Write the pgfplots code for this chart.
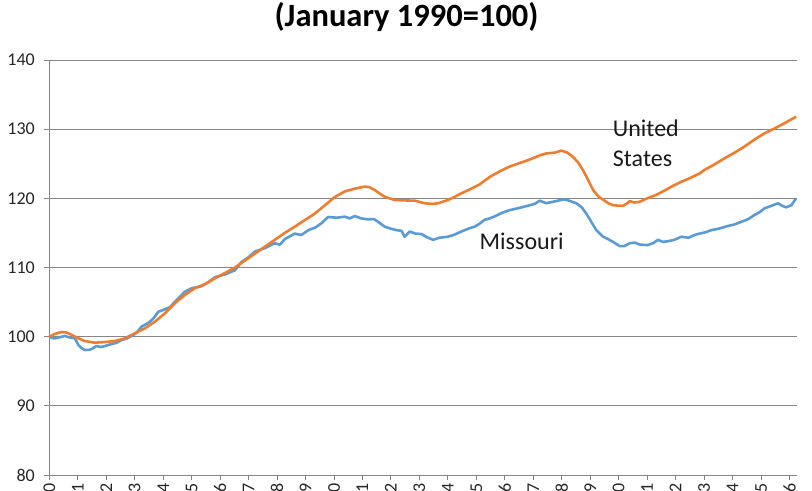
\documentclass[border=0pt]{standalone}
\usepackage{pgfplots}
\pgfplotsset{compat=1.18}
\usepackage{fontspec}
\setmainfont{Carlito}
\definecolor{moblue}{HTML}{5B9BD5}
\definecolor{usorange}{HTML}{ED7D31}
\definecolor{gridgray}{HTML}{868686}
\begin{document}
\begin{tikzpicture}
\path[use as bounding box] (-49.3bp,-16bp) rectangle (762.7bp,475bp);
\clip (-49.3bp,-16bp) rectangle (762.7bp,475bp);
\begin{axis}[
  scale only axis,
  width=747.4bp, height=415bp,
  anchor=south west, at={(0,0)},
  xmin=1990, xmax=2016.25,
  ymin=80, ymax=140,
  ytick={80,90,...,140},
  xtick={1990,...,2016},
  /pgf/number format/assume math mode=true,
  /pgf/number format/1000 sep={},
  axis lines*=left,
  axis line style={gridgray, line width=0.9bp},
  ymajorgrids,
  grid style={gridgray, line width=0.9bp},
  tick align=outside,
  major tick length=5bp,
  tick style={gridgray, line width=0.9bp},
  ticklabel style={font=\fontsize{18bp}{21bp}\selectfont, text=black!85},
  yticklabel style={xshift=-6bp},
  xticklabel style={rotate=90, anchor=east},
  title={(January 1990=100)},
  title style={font=\bfseries\fontsize{32.5bp}{38bp}\selectfont, at={(axis description cs:0.478,1.0675)}, anchor=base, inner sep=0pt},
  clip=false,
]
\addplot[moblue, line width=2.6bp, line join=round] coordinates {
(1990.00,100.0) (1990.10,99.8) (1990.20,99.76) (1990.35,99.9) (1990.55,100.1) (1990.70,99.9) (1990.90,99.76)
(1991.02,98.8) (1991.15,98.3) (1991.25,98.07) (1991.40,98.1) (1991.48,98.2) (1991.66,98.65) (1991.80,98.5) (1991.96,98.65)
(1992.19,98.94) (1992.35,99.1) (1992.54,99.52) (1992.70,99.7) (1992.89,100.1)
(1993.05,100.5) (1993.24,101.44) (1993.48,102.0) (1993.65,102.6) (1993.83,103.6)
(1994.06,103.95) (1994.25,104.3) (1994.41,105.05) (1994.60,105.8) (1994.76,106.5)
(1995.00,107.0) (1995.35,107.3) (1995.60,107.9) (1995.82,108.6)
(1996.17,109.0) (1996.52,109.6) (1996.75,110.8) (1997.00,111.5) (1997.22,112.3) (1997.57,112.8)
(1997.92,113.5) (1998.10,113.3) (1998.27,114.1) (1998.62,114.9) (1998.85,114.7)
(1999.10,115.4) (1999.35,115.8) (1999.56,116.4) (1999.79,117.3)
(2000.10,117.2) (2000.38,117.35) (2000.55,117.1) (2000.73,117.44) (2000.95,117.1)
(2001.20,116.96) (2001.40,117.0) (2001.55,116.6) (2001.78,115.9)
(2002.00,115.6) (2002.20,115.4) (2002.37,115.3) (2002.48,114.45) (2002.66,115.2) (2002.85,114.9)
(2003.07,114.84) (2003.25,114.4) (2003.48,114.0) (2003.70,114.3)
(2004.00,114.45) (2004.20,114.7) (2004.47,115.2) (2004.77,115.7) (2004.94,115.9)
(2005.10,116.3) (2005.29,116.9) (2005.47,117.1) (2005.70,117.5) (2005.90,117.9)
(2006.17,118.3) (2006.50,118.6) (2006.87,119.0) (2007.05,119.2) (2007.22,119.66) (2007.45,119.3)
(2007.69,119.5) (2007.90,119.7) (2008.10,119.86) (2008.30,119.6) (2008.51,119.28) (2008.70,118.7)
(2008.86,117.8) (2009.05,116.5) (2009.21,115.4) (2009.45,114.45) (2009.63,114.1) (2009.80,113.7)
(2010.03,113.1) (2010.20,113.1) (2010.38,113.5) (2010.56,113.6) (2010.75,113.3)
(2011.02,113.25) (2011.20,113.5) (2011.38,114.0) (2011.55,113.7) (2011.73,113.8) (2011.95,114.0)
(2012.20,114.45) (2012.45,114.3) (2012.66,114.7) (2012.84,114.9)
(2013.05,115.1) (2013.25,115.4) (2013.50,115.6) (2013.83,116.0)
(2014.05,116.2) (2014.30,116.6) (2014.55,117.0) (2014.77,117.6) (2014.95,118.0)
(2015.12,118.55) (2015.35,118.9) (2015.59,119.28) (2015.75,118.9) (2015.88,118.7)
(2016.06,119.0) (2016.23,120.0)
};
\addplot[usorange, line width=2.6bp, line join=round] coordinates {
(1990.00,100.0) (1990.20,100.4) (1990.43,100.67) (1990.60,100.6) (1990.79,100.24)
(1991.02,99.76) (1991.25,99.37) (1991.60,99.13) (1991.96,99.23)
(1992.30,99.37) (1992.66,99.76) (1993.00,100.48) (1993.36,101.2) (1993.71,102.17)
(1994.06,103.37) (1994.41,104.82) (1994.76,106.02) (1995.11,107.0) (1995.47,107.6) (1995.82,108.44)
(1996.17,109.2) (1996.52,110.0) (1996.87,111.0) (1997.22,112.0) (1997.57,113.0) (1997.92,114.0)
(1998.27,115.0) (1998.62,115.9) (1998.97,116.85) (1999.33,117.8) (1999.68,119.0)
(2000.03,120.2) (2000.38,121.0) (2000.73,121.4) (2001.08,121.7) (2001.25,121.6) (2001.43,121.2)
(2001.60,120.7) (2001.78,120.23) (2002.13,119.76) (2002.48,119.7) (2002.84,119.66)
(2003.19,119.28) (2003.45,119.2) (2003.65,119.28) (2004.00,119.76) (2004.23,120.2) (2004.47,120.72)
(2004.77,121.3) (2005.11,122.0) (2005.47,123.1) (2005.82,123.9) (2006.17,124.6) (2006.52,125.1)
(2006.87,125.6) (2007.22,126.2) (2007.46,126.5) (2007.75,126.6) (2007.98,126.9) (2008.20,126.6)
(2008.39,126.0) (2008.57,125.2) (2008.74,124.1) (2008.92,122.7) (2009.10,121.2) (2009.28,120.3)
(2009.45,119.8) (2009.63,119.3) (2009.80,119.0) (2010.15,118.9) (2010.30,119.3) (2010.38,119.6)
(2010.55,119.4) (2010.73,119.5) (2011.00,120.0) (2011.32,120.5) (2011.60,121.1) (2011.90,121.8)
(2012.20,122.4) (2012.49,122.9) (2012.84,123.6) (2013.01,124.1) (2013.36,124.9) (2013.72,125.8)
(2014.07,126.6) (2014.42,127.5) (2014.77,128.5) (2015.12,129.4) (2015.47,130.1) (2015.82,130.85)
(2016.05,131.4) (2016.23,131.8)
};
\node[anchor=base west, inner sep=0pt, align=left, font=\fontsize{24bp}{30bp}\selectfont, text=black!90] at (axis cs:2009.79,124.53) {United\\States};
\node[anchor=base west, inner sep=0pt, font=\fontsize{24bp}{30bp}\selectfont, text=black!90] at (axis cs:2005.11,112.53) {Missouri};
\end{axis}
\end{tikzpicture}
\end{document}
